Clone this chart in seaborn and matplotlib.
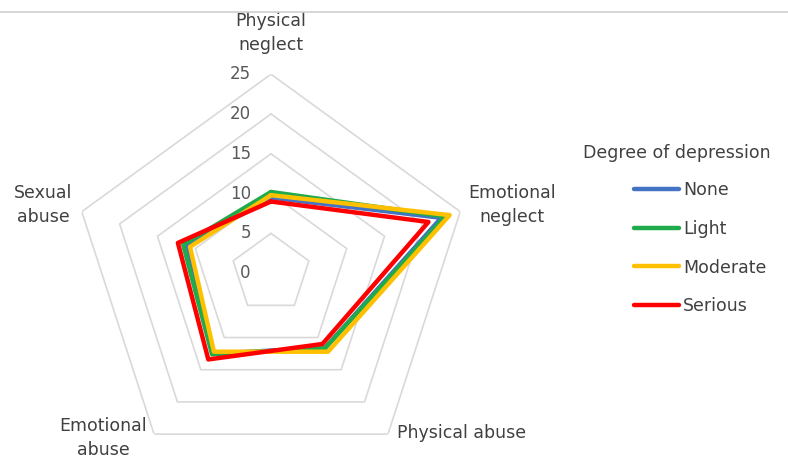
import numpy as np
import pandas as pd
import matplotlib.pyplot as plt
import seaborn as sns

# Categories (clockwise from the top) and values per degree of depression
categories = ['Physical\nneglect', 'Emotional\nneglect', 'Physical abuse',
              'Emotional\nabuse', 'Sexual\nabuse']
none_vals = [9.5, 22.5, 11.6, 12.5, 11.2]
light_vals = [10.2, 23.0, 11.6, 12.6, 11.6]
moderate_vals = [9.8, 23.6, 12.2, 12.2, 10.7]
serious_vals = [9.0, 20.8, 11.0, 13.4, 12.3]
series_names = ['None', 'Light', 'Moderate', 'Serious']
ring_ticks = [0, 5, 10, 15, 20, 25]

colors = ['#4472C4', '#1FAA4B', '#FFC000', '#FF0000']

sns.set_theme(style='white')
plt.rcParams['font.family'] = ['DejaVu Sans']

n = len(categories)
theta = np.linspace(0, 2 * np.pi, n, endpoint=False)
theta_closed = np.append(theta, 2 * np.pi)

# long-format table, each polygon closed by repeating its first point
rows = []
for name, vals in zip(series_names, [none_vals, light_vals, moderate_vals, serious_vals]):
    for t, v in zip(theta_closed, vals + vals[:1]):
        rows.append({'theta': t, 'value': v, 'Degree': name})
df = pd.DataFrame(rows)

fig = plt.figure(figsize=(7.88, 4.59), dpi=100)
ax = fig.add_axes([0.0914, -0.0286, 0.505, 0.867], projection='polar')
ax.set_theta_zero_location('N')
ax.set_theta_direction(-1)
ax.grid(False)
ax.spines['polar'].set_visible(False)
ax.set_xticks([])
ax.set_yticks([])
ax.set_ylim(0, 25)

# pentagon grid
for r in ring_ticks[1:]:
    ax.plot(theta_closed, [r] * (n + 1), color='#d9d9d9', lw=1.2, zorder=1)
for r in ring_ticks:
    ax.annotate(str(r), xy=(0, r), xytext=(-14.5, 0), textcoords='offset points',
                ha='right', va='center', fontsize=12, color='#595959')

sns.lineplot(data=df, x='theta', y='value', hue='Degree', palette=colors,
             sort=False, estimator=None, lw=3.2, ax=ax, legend=False, zorder=3)
ax.set_xlabel('')
ax.set_ylabel('')

# category labels, placed next to the outer ring vertices
lab_kw = dict(fontsize=12.5, color='#404040', linespacing=1.4,
              multialignment='center', textcoords='offset points')
ax.annotate(categories[0], xy=(theta[0], 25), xytext=(0, 29.5),
            ha='center', va='center', **lab_kw)
ax.annotate(categories[1], xy=(theta[1], 25), xytext=(5.8, 5),
            ha='left', va='center', **lab_kw)
ax.annotate(categories[2], xy=(theta[2], 25), xytext=(6.5, 0.7),
            ha='left', va='center', **lab_kw)
ax.annotate(categories[3], xy=(theta[3], 25), xytext=(-5, -3),
            ha='right', va='center', **lab_kw)
ax.annotate(categories[4], xy=(theta[4], 25), xytext=(-6.5, 5),
            ha='right', va='center', **lab_kw)

# legend
fig.text(0.740, 0.667, 'Degree of depression', ha='left', va='center',
         fontsize=12.5, color='#404040')
handles = [plt.Line2D([], [], color=c, lw=3.2) for c in colors]
leg = fig.legend(handles, series_names, loc='upper left',
                 bbox_to_anchor=(0.805, 0.606), borderaxespad=0, borderpad=0,
                 frameon=False, fontsize=12.5,
                 handlelength=2.55, handletextpad=0.25, labelspacing=1.2)
for t in leg.get_texts():
    t.set_color('#404040')

# thin border line at the top
fig.add_artist(plt.Line2D([0, 1], [0.974, 0.974], color='#d0d0d0', lw=1.2,
                          transform=fig.transFigure))

fig.savefig('out.png', dpi=100)
